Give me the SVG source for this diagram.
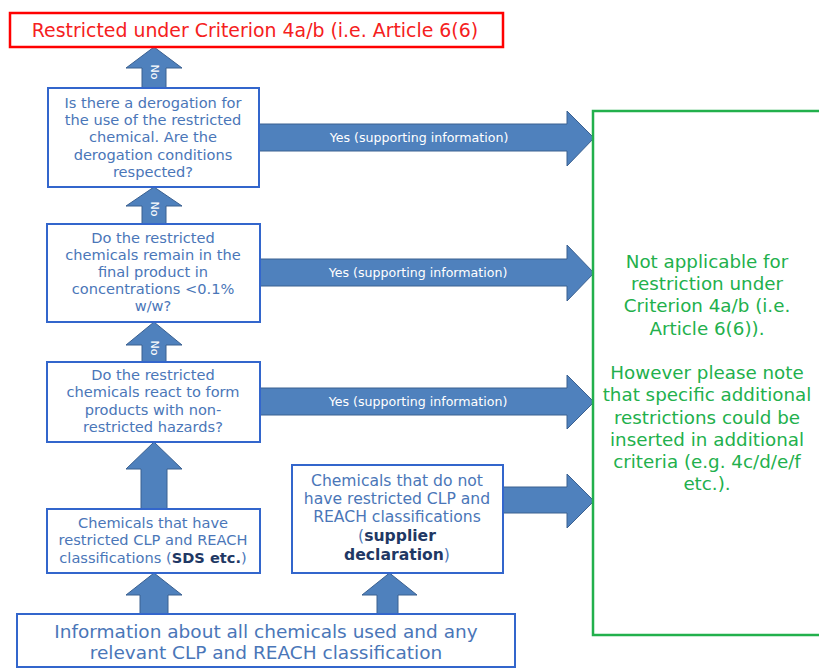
<svg xmlns="http://www.w3.org/2000/svg" width="819" height="668" viewBox="0 0 819 668">
<style>
.box{fill:#fff;stroke:#3366CC;stroke-width:2}
.arr{fill:#4F81BD;stroke:#3A6090;stroke-width:1}
.t{font-family:"DejaVu Sans","Liberation Sans",sans-serif;font-size:14.6px;fill:#4A76B8;text-anchor:middle}
.t5{font-size:15.6px}
.tb{font-size:18.5px}
.b{font-weight:bold;fill:#1F3864}
.yes{font-family:"DejaVu Sans","Liberation Sans",sans-serif;font-size:12.6px;fill:#fff;text-anchor:middle}
.no{font-family:"DejaVu Sans","Liberation Sans",sans-serif;font-size:11px;fill:#fff;text-anchor:middle;dominant-baseline:central}
.g{font-family:"DejaVu Sans","Liberation Sans",sans-serif;font-size:18.3px;fill:#22B04C;text-anchor:middle}
</style>
<rect width="819" height="668" fill="#fff"/>
<g id="connectors">
<path class="arr" d="M142,88 L142,68 L126,68 L154,47 L182,68 L166,68 L166,88 Z"/>
<text class="no" transform="translate(154,72) rotate(90)">No</text>
<path class="arr" d="M142,224 L142,206 L126,206 L154,187 L182,206 L166,206 L166,224 Z"/>
<text class="no" transform="translate(154,209) rotate(90)">No</text>
<path class="arr" d="M142,362 L142,345 L126,345 L154,322 L182,345 L166,345 L166,362 Z"/>
<text class="no" transform="translate(154,348) rotate(90)">No</text>
<path class="arr" d="M141,509 L141,469 L126,469 L154,442 L182,469 L167,469 L167,509 Z"/>
<path class="arr" d="M140,614 L140,595 L126,595 L154,573 L182,595 L168,595 L168,614 Z"/>
<path class="arr" d="M377,614 L377,595 L362,595 L389.5,573 L417,595 L398,595 L398,614 Z"/>
<path class="arr" d="M259,124 L567,124 L567,111 L594,138 L567,166 L567,151 L259,151 Z"/>
<text class="yes" x="419" y="142">Yes (supporting information)</text>
<path class="arr" d="M260,259 L567,259 L567,245 L594,273 L567,301 L567,286 L260,286 Z"/>
<text class="yes" x="418" y="277">Yes (supporting information)</text>
<path class="arr" d="M260,388 L567,388 L567,375 L594,402 L567,429 L567,415 L260,415 Z"/>
<text class="yes" x="418" y="406">Yes (supporting information)</text>
<path class="arr" d="M503,487 L567,487 L567,474 L594,501 L567,528 L567,513 L503,513 Z"/>
</g>
<g id="restricted">
<rect x="10" y="13" width="493" height="34" fill="#fff" stroke="#FF0000" stroke-width="2.5"/>
<text x="255" y="37" font-family="DejaVu Sans, Liberation Sans, sans-serif" font-size="18.9" fill="#F52020" text-anchor="middle">Restricted under Criterion 4a/b (i.e. Article 6(6)</text>
</g>
<g id="derogation">
<rect class="box" x="48" y="88" width="211" height="99"/>
<text class="t" x="153" y="108">Is there a derogation for</text>
<text class="t" x="153" y="125">the use of the restricted</text>
<text class="t" x="153" y="142">chemical. Are the</text>
<text class="t" x="153" y="159.5">derogation conditions</text>
<text class="t" x="153" y="177">respected?</text>
</g>
<g id="remain">
<rect class="box" x="47" y="224" width="213" height="98"/>
<text class="t" x="153" y="243">Do the restricted</text>
<text class="t" x="153" y="260">chemicals remain in the</text>
<text class="t" x="153" y="277">final product in</text>
<text class="t" x="153" y="294">concentrations &lt;0.1%</text>
<text class="t" x="153" y="311">w/w?</text>
</g>
<g id="react">
<rect class="box" x="47" y="362" width="213" height="80"/>
<text class="t" x="153" y="380">Do the restricted</text>
<text class="t" x="153" y="397">chemicals react to form</text>
<text class="t" x="153" y="415">products with non-</text>
<text class="t" x="153" y="432">restricted hazards?</text>
</g>
<g id="have">
<rect class="box" x="47" y="509" width="213" height="64"/>
<text class="t" x="153" y="528">Chemicals that have</text>
<text class="t" x="153" y="545">restricted CLP and REACH</text>
<text class="t" x="153" y="563">classifications (<tspan class="b">SDS etc.</tspan>)</text>
</g>
<g id="donot">
<rect class="box" x="292" y="465" width="211" height="108"/>
<text class="t t5" x="397" y="486">Chemicals that do not</text>
<text class="t t5" x="397" y="504">have restricted CLP and</text>
<text class="t t5" x="397" y="522">REACH classifications</text>
<text class="t t5" x="397" y="541">(<tspan class="b">supplier</tspan></text>
<text class="t t5" x="397" y="560"><tspan class="b">declaration</tspan>)</text>
</g>
<g id="information">
<rect class="box" x="17" y="614" width="498" height="53"/>
<text class="t tb" x="266" y="638">Information about all chemicals used and any</text>
<text class="t tb" x="266" y="659">relevant CLP and REACH classification</text>
</g>
<g id="notapplicable">
<rect x="593" y="111" width="240" height="524" fill="none" stroke="#22B04C" stroke-width="2.5"/>
<text class="g" x="707" y="268">Not applicable for</text>
<text class="g" x="707" y="290">restriction under</text>
<text class="g" x="707" y="312">Criterion 4a/b (i.e.</text>
<text class="g" x="707" y="334.5">Article 6(6)).</text>
<text class="g" x="707" y="379">However please note</text>
<text class="g" x="707" y="401">that specific additional</text>
<text class="g" x="707" y="423.5">restrictions could be</text>
<text class="g" x="707" y="445.5">inserted in additional</text>
<text class="g" x="707" y="468">criteria (e.g. 4c/d/e/f</text>
<text class="g" x="707" y="490">etc.).</text>
</g>
</svg>
